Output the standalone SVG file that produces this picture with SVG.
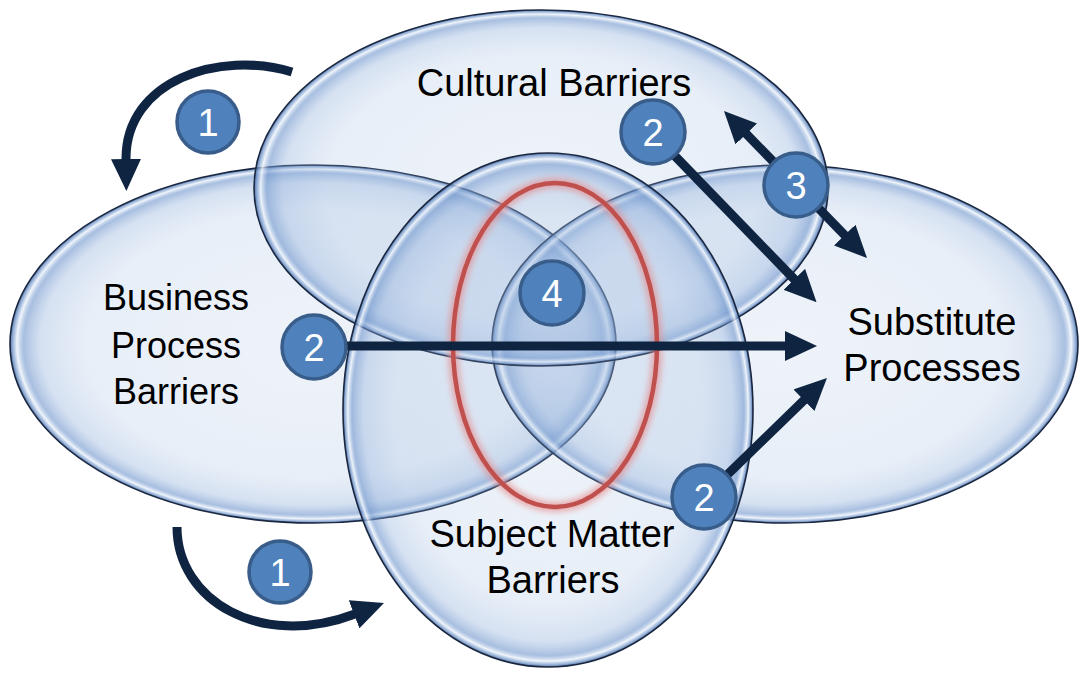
<svg xmlns="http://www.w3.org/2000/svg" width="1089" height="673" viewBox="0 0 1089 673">
<defs>
<style>
.set{fill:url(#glass);stroke:#1a2740;stroke-width:1.6}
.lbl{font-family:"Liberation Sans",Arial,sans-serif;fill:#000;text-anchor:middle}
.badge circle{fill:#4f81bd;stroke:#385d8a;stroke-width:3.5}
.badge text{font-family:"Liberation Sans",Arial,sans-serif;font-size:38px;fill:#fff;text-anchor:middle}
.arr{fill:none;stroke:#0f2441;stroke-width:9}
</style>
<radialGradient id="glass" cx="0.5" cy="0.5" r="0.5">
<stop offset="0" stop-color="#a3bde0" stop-opacity="0.18"/>
<stop offset="0.75" stop-color="#96b4dc" stop-opacity="0.22"/>
<stop offset="0.9" stop-color="#8aabd9" stop-opacity="0.36"/>
<stop offset="0.955" stop-color="#6f95cc" stop-opacity="0.6"/>
<stop offset="0.977" stop-color="#eef4fb" stop-opacity="0.85"/>
<stop offset="0.99" stop-color="#7d9fd0" stop-opacity="0.75"/>
<stop offset="1" stop-color="#3e5f94" stop-opacity="0.9"/>
</radialGradient>
<filter id="glow" x="-20%" y="-20%" width="140%" height="140%">
<feGaussianBlur stdDeviation="3"/>
</filter>
<marker id="ah" markerUnits="userSpaceOnUse" markerWidth="32" markerHeight="30" viewBox="0 0 32 30" refX="1" refY="15" orient="auto-start-reverse">
<path d="M0,0 L32,15 L0,30 z" fill="#0f2441"/>
</marker>
</defs>
<rect width="1089" height="673" fill="#ffffff"/>

<g id="business-process-barriers">
<ellipse class="set" cx="313" cy="344" rx="303" ry="179"/>
<text class="lbl" font-size="36" x="176" y="310">Business</text>
<text class="lbl" font-size="36" x="176" y="358">Process</text>
<text class="lbl" font-size="36" x="176" y="404">Barriers</text>
</g>
<g id="substitute-processes">
<ellipse class="set" cx="785" cy="344" rx="293" ry="179"/>
<text class="lbl" font-size="38" x="932" y="335">Substitute</text>
<text class="lbl" font-size="38" x="932" y="381">Processes</text>
</g>
<g id="cultural-barriers">
<ellipse class="set" cx="541" cy="188" rx="287" ry="178"/>
<text class="lbl" font-size="38" x="554" y="96">Cultural Barriers</text>
</g>
<g id="subject-matter-barriers">
<ellipse class="set" cx="548" cy="410" rx="205" ry="257"/>
<text class="lbl" font-size="38" x="552" y="547">Subject Matter</text>
<text class="lbl" font-size="38" x="553" y="593">Barriers</text>
</g>

<g id="focus-ring">
<ellipse cx="555" cy="345" rx="102" ry="162" fill="none" stroke="#e58a8a" stroke-opacity="0.7" stroke-width="10" filter="url(#glow)"/>
<ellipse cx="555" cy="345" rx="102" ry="162" fill="none" stroke="#c0504d" stroke-width="4.5"/>
</g>

<g id="connectors">
<path class="arr" d="M292,72 C220,50 125,80 126,160" marker-end="url(#ah)"/>
<path class="arr" d="M177,527 C177,600 260,650 355,614" marker-end="url(#ah)"/>
<path class="arr" d="M346,346 L786,346" marker-end="url(#ah)"/>
<path class="arr" d="M674,155 L795,280" marker-end="url(#ah)"/>
<path class="arr" d="M745.6,133.2 L845.4,235.8" marker-start="url(#ah)" marker-end="url(#ah)"/>
<path class="arr" d="M727,475 L804.7,399.6" marker-end="url(#ah)"/>
</g>

<g id="badge-1-top" class="badge"><circle cx="208" cy="122" r="31"/><text x="208" y="136">1</text></g>
<g id="badge-1-bottom" class="badge"><circle cx="280" cy="572" r="31"/><text x="280" y="586">1</text></g>
<g id="badge-2-left" class="badge"><circle cx="314" cy="347" r="32"/><text x="314" y="361">2</text></g>
<g id="badge-2-top" class="badge"><circle cx="653" cy="132" r="32"/><text x="653" y="146">2</text></g>
<g id="badge-2-bottom" class="badge"><circle cx="704" cy="497" r="32"/><text x="704" y="511">2</text></g>
<g id="badge-3" class="badge"><circle cx="796" cy="185" r="32"/><text x="796" y="199">3</text></g>
<g id="badge-4" class="badge"><circle cx="552" cy="293" r="32"/><text x="552" y="307">4</text></g>
</svg>
